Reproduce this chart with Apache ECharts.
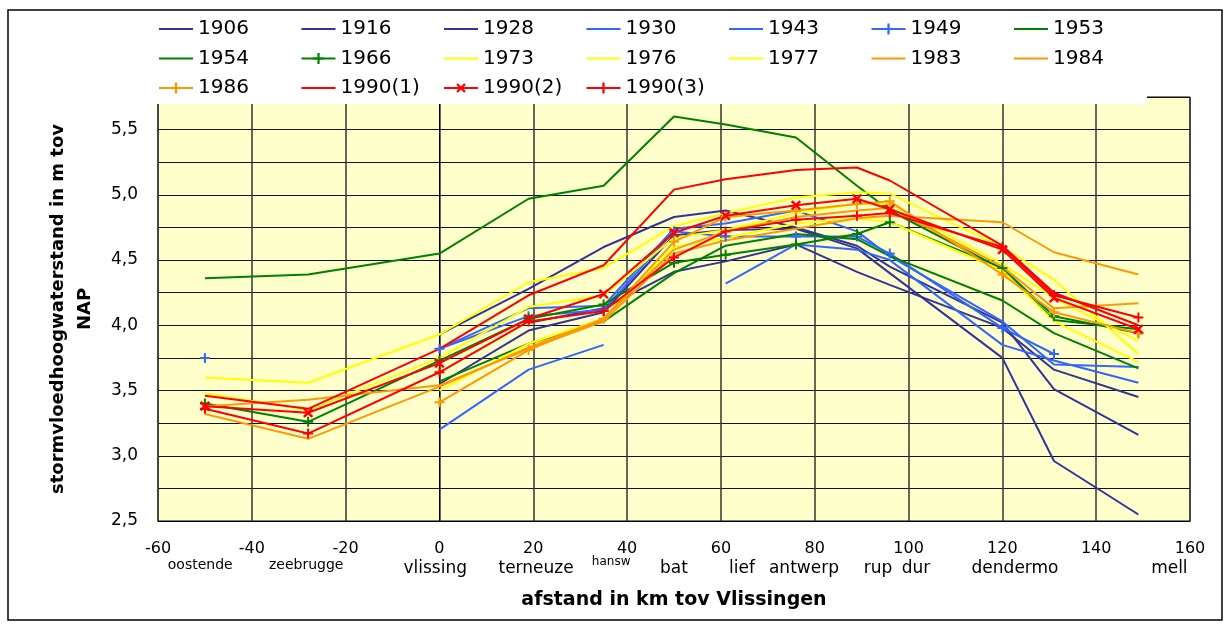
<!DOCTYPE html>
<html>
<head>
<meta charset="utf-8">
<script src="https://cdn.jsdelivr.net/npm/echarts@6/dist/echarts.min.js"></script>
<style>
html, body { margin: 0; padding: 0; background: #fff; }
#chart { width: 1231px; height: 624px; }
</style>
</head>
<body>
<div id="chart"></div>
<script>
// distance (km from Vlissingen) of each measuring station
var km = [-50, -28, 0, 19, 35, 50, 61, 76, 89, 96, 120, 131, 149];

// station names under the axis and where their text sits (km)
var stationNames = ['oostende', 'zeebrugge', 'vlissing', 'terneuze', 'hansw', 'bat', 'lief', 'antwerp', 'rup', 'dur', 'dendermo', 'mell'];
var stationLabelKm = [-51, -28.4, -0.9, 20.6, 36.6, 50, 64.5, 77.7, 93.5, 101.6, 122.7, 155.6];

var years = ['1906', '1916', '1928', '1930', '1943', '1949', '1953',
             '1954', '1966', '1973', '1976', '1977', '1983', '1984',
             '1986', '1990(1)', '1990(2)', '1990(3)'];

// storm flood levels (m NAP), one value per station, null = not measured
var v1906 = [null, null, 3.93, 4.28, 4.60, 4.83, 4.88, 4.75, 4.61, 4.45, 4.02, 3.51, 3.16];
var v1916 = [null, null, 3.55, 3.96, 4.10, 4.69, 4.73, 4.74, 4.59, 4.40, 3.75, 2.96, 2.55];
var v1928 = [null, null, null, 4.02, 4.13, 4.41, 4.49, 4.62, 4.41, 4.31, 3.98, 3.66, 3.45];
var v1930 = [null, null, 3.82, 4.13, 4.15, 4.74, 4.78, 4.88, 4.72, 4.53, 4.03, 3.70, 3.68];
var v1943 = [null, null, 3.20, 3.66, 3.85, null, 4.32, 4.62, 4.58, 4.50, 3.85, 3.73, 3.56];
var v1949 = [3.75, null, 3.82, 4.07, 4.12, 4.72, 4.68, 4.68, 4.68, 4.55, 3.98, 3.78, null];
var v1953 = [4.36, 4.39, 4.55, 4.97, 5.07, 5.60, 5.54, 5.44, 5.07, 4.88, 4.43, 4.04, 3.97];
var v1954 = [null, null, 3.57, 3.86, 4.03, 4.40, 4.61, 4.70, 4.66, 4.53, 4.19, 3.94, 3.67];
var v1966 = [3.40, 3.26, 3.73, 4.05, 4.16, 4.48, 4.54, 4.62, 4.70, 4.79, 4.44, 4.07, 3.94];
var v1973 = [3.60, 3.56, 3.93, 4.33, 4.44, 4.76, 4.86, 4.98, 5.02, 5.01, 4.60, 4.35, 3.78];
var v1976 = [3.48, 3.35, 3.75, 4.14, 4.23, 4.67, 4.73, 4.86, 4.93, 4.93, 4.47, 4.21, 3.88];
var v1977 = [null, null, 3.50, 3.86, 4.05, 4.60, 4.67, 4.78, 4.82, 4.79, 4.42, 4.03, 3.72];
var v1983 = [3.38, 3.43, 3.54, 3.82, 4.03, 4.55, 4.65, 4.74, 4.82, 4.84, 4.79, 4.56, 4.39];
var v1984 = [3.32, 3.13, 3.53, 3.83, 4.05, 4.58, 4.72, 4.83, 4.88, 4.90, 4.45, 4.13, 4.17];
var v1986 = [null, null, 3.41, 3.81, 4.05, 4.64, 4.83, 4.88, 4.93, 4.95, 4.39, 4.10, 3.94];
var v1990a = [3.46, 3.36, 3.82, 4.23, 4.46, 5.04, 5.12, 5.19, 5.21, 5.11, 4.61, 4.25, 4.00];
var v1990b = [3.38, 3.33, 3.71, 4.05, 4.24, 4.71, 4.84, 4.92, 4.97, 4.89, 4.58, 4.21, 3.97];
var v1990c = [3.36, 3.17, 3.64, 4.03, 4.11, 4.52, 4.72, 4.81, 4.84, 4.86, 4.60, 4.23, 4.06];

var values = [v1906, v1916, v1928, v1930, v1943, v1949, v1953, v1954, v1966,
              v1973, v1976, v1977, v1983, v1984, v1986, v1990a, v1990b, v1990c];

var NAVY = '#333399', BLUE = '#3366ff', GREEN = '#008000',
    YELLOW = '#ffff00', ORANGE = '#ff9900', RED = '#ff0000';
var colors = [NAVY, NAVY, NAVY, BLUE, BLUE, BLUE, GREEN, GREEN, GREEN,
              YELLOW, YELLOW, YELLOW, ORANGE, ORANGE, ORANGE, RED, RED, RED];
// '' = no marker, '+' = plus, 'x' = cross
var markers = ['', '', '', '', '', '+', '', '', '+', '', '', '', '', '', '+', '', 'x', '+'];

var PLUS = 'path://M4,0H6V4H10V6H6V10H4V6H0V4H4Z';
var FONT = 'DejaVu Sans';

var dom = document.getElementById('chart');
var myChart = echarts.init(dom);

var series = years.map(function (name, i) {
    var pts = km.map(function (x, j) {
        return [x, values[i][j]];
    });
    var m = markers[i];
    return {
        name: name,
        type: 'line',
        data: pts,
        connectNulls: false,
        symbol: m ? PLUS : 'circle',
        symbolSize: m === 'x' ? 12 : 10,
        symbolRotate: m === 'x' ? 45 : 0,
        showSymbol: !!m,
        lineStyle: { color: colors[i], width: 2 },
        itemStyle: { color: colors[i] },
        emphasis: { disabled: true },
        animation: false
    };
});

// legend: 7 columns, 3 rows; plain lines get no symbol
var legends = [];
for (var c = 0; c < 7; c++) {
    var items = [];
    for (var r = 0; r < 3; r++) {
        var k = r * 7 + c;
        if (k >= years.length) continue;
        items.push(markers[k] ? { name: years[k] } : { name: years[k], itemStyle: { opacity: 0 } });
    }
    legends.push({
        orient: 'vertical',
        left: 158 + c * 142.5,
        top: 19,
        padding: 0,
        itemWidth: 34,
        itemHeight: 14,
        itemGap: 9.5,
        selectedMode: false,
        data: items,
        lineStyle: { width: 2 },
        textStyle: { fontFamily: FONT, fontSize: 20, lineHeight: 20, color: '#000' }
    });
}

var option = {
    animation: false,
    legend: legends,
    grid: {
        left: 158,
        right: 41,
        top: 97,
        bottom: 103,
        show: true,
        backgroundColor: '#ffffcc',
        borderColor: '#000',
        borderWidth: 1
    },
    xAxis: {
        type: 'value',
        min: -60,
        max: 160,
        interval: 20,
        name: 'afstand in km tov Vlissingen',
        nameLocation: 'middle',
        nameGap: 70,
        nameTextStyle: { fontFamily: FONT, fontSize: 19, fontWeight: 'bold', color: '#000' },
        axisLine: { lineStyle: { color: '#000' } },
        axisTick: { show: false },
        axisLabel: { fontFamily: FONT, fontSize: 16, color: '#000', margin: 20 },
        splitLine: { lineStyle: { color: '#333', width: 1.5 } }
    },
    yAxis: {
        type: 'value',
        min: 2.5,
        max: 5.75,
        interval: 0.25,
        name: 'stormvloedhoogwaterstand in m tov\nNAP',
        nameLocation: 'middle',
        nameGap: 59,
        nameTextStyle: { fontFamily: FONT, fontSize: 18, fontWeight: 'bold', color: '#000', lineHeight: 27 },
        axisLine: { show: true, lineStyle: { color: '#000' } },
        axisTick: { show: false },
        axisLabel: {
            fontFamily: FONT,
            fontSize: 17,
            color: '#000',
            margin: 20,
            formatter: function (v) {
                if (Math.abs(v * 2 - Math.round(v * 2)) > 1e-6) return '';
                return v.toFixed(1).replace('.', ',');
            }
        },
        splitLine: { lineStyle: { color: '#111', width: 1 } }
    },
    series: series
};

myChart.setOption(option);

// white legend box over the top of the plot, outer frame, station names
var graphics = [
    { type: 'rect', z: 3, shape: { x: 140, y: 11, width: 1007, height: 93 }, style: { fill: '#fff' } },
    { type: 'rect', z: 10, shape: { x: 8, y: 10, width: 1214, height: 610 }, style: { fill: 'none', stroke: '#000', lineWidth: 1.5 } }
];
stationNames.forEach(function (s, i) {
    var px = myChart.convertToPixel({ xAxisIndex: 0 }, stationLabelKm[i]);
    var size = 17, y = 569;
    if (s === 'oostende' || s === 'zeebrugge') { size = 14; y = 565; }
    if (s === 'hansw') { size = 12; y = 562; }
    graphics.push({
        type: 'text', z: 10, x: px, y: y,
        style: { text: s, fontFamily: FONT, fontSize: size, fill: '#000', align: 'center', verticalAlign: 'middle' }
    });
});
myChart.setOption({ graphic: graphics });
</script>
</body>
</html>
